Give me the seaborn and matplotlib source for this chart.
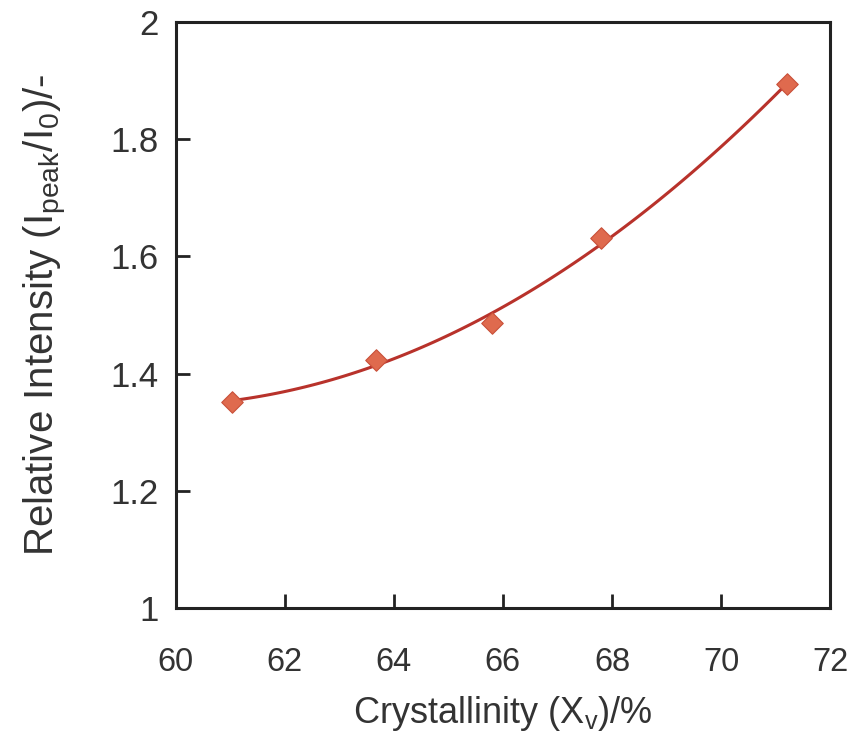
"""
Relative intensity vs crystallinity, diamond markers with a quadratic trend line
"""
import matplotlib
matplotlib.use("Agg")
import matplotlib.pyplot as plt
import seaborn as sns
import pandas as pd

# valores
crystallinity = [61.03, 63.68, 65.81, 67.80, 71.21]
rel_intensity = [1.352, 1.424, 1.487, 1.631, 1.894]

x_ticks = [60, 62, 64, 66, 68, 70, 72]
y_ticks = [1.0, 1.2, 1.4, 1.6, 1.8, 2.0]
y_tick_labels = ["1", "1.2", "1.4", "1.6", "1.8", "2"]

sns.set_style("ticks")
plt.rcParams["font.family"] = ["Liberation Sans", "DejaVu Sans"]
plt.rcParams["mathtext.default"] = "regular"

df = pd.DataFrame({"x": crystallinity, "y": rel_intensity})

fig = plt.figure(figsize=(8.48, 7.36), dpi=100)
ax = fig.add_axes([0.207, 0.174, 0.772, 0.796])

# linha de tendência (polinômio de 2ª ordem) + pontos
sns.regplot(data=df, x="x", y="y", order=2, ci=None, scatter=False, ax=ax,
            line_kws=dict(color="#b8322b", linewidth=2.2), truncate=True)
sns.scatterplot(data=df, x="x", y="y", marker="D", s=120, color="#df6a4e",
                edgecolor="#c9503a", linewidth=0.8, ax=ax, zorder=5)

ax.set_xlim(60, 72)
ax.set_ylim(1, 2)
ax.set_xticks(x_ticks)
ax.set_yticks(y_ticks)
ax.set_yticklabels(y_tick_labels)

for side in ["top", "right", "bottom", "left"]:
    ax.spines[side].set_visible(True)
    ax.spines[side].set_linewidth(2.2)
    ax.spines[side].set_color("#222222")

ax.tick_params(axis="x", direction="in", length=10, width=2, color="#222222",
               labelsize=23.5, pad=28, labelcolor="#333333")
ax.tick_params(axis="y", direction="in", length=10, width=2, color="#222222",
               labelsize=25, pad=12, labelcolor="#333333")

ax.set_xlabel("Crystallinity (X$_v$)/%", fontsize=26, color="#333333", labelpad=12)
ax.set_ylabel("Relative Intensity (I$_{peak}$/I$_0$)/-", fontsize=29,
              color="#333333", labelpad=30)

plt.savefig("out.png", dpi=100)
